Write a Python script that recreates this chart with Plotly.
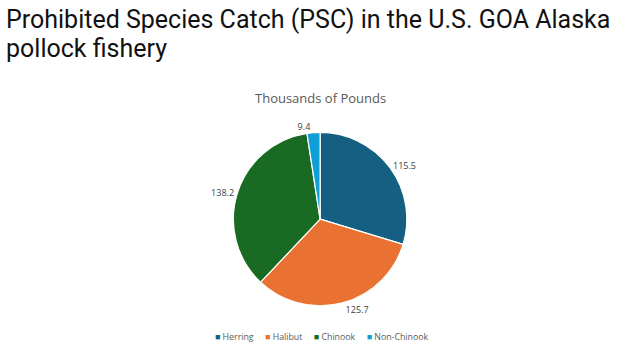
import plotly.graph_objects as go

categories = ["Herring", "Halibut", "Chinook", "Non-Chinook"]
values = [115.5, 125.7, 138.2, 9.4]
colors = ["#156082", "#E97132", "#196B24", "#0F9ED5"]
title_lines = ["Prohibited Species Catch (PSC) in the U.S. GOA Alaska", "pollock fishery"]

fig = go.Figure()
fig.add_trace(go.Pie(
    labels=categories,
    values=values,
    sort=False,
    direction="clockwise",
    rotation=0,
    marker=dict(colors=colors, line=dict(color="white", width=1.2)),
    textinfo="value",
    texttemplate="%{value:.1f}",
    textposition="outside",
    textfont=dict(family="Open Sans", size=9, color="#404040"),
    domain=dict(x=[0.333, 0.693], y=[0.136, 0.626]),
    hoverinfo="label+value",
    showlegend=False,
))

legend_text = "&nbsp;&nbsp;&nbsp;&nbsp;&nbsp;".join(
    f"<span style='color:{c}'>■</span> {n}" for n, c in zip(categories, colors)
)

annotations = []
for i, line in enumerate(title_lines):
    annotations.append(dict(
        text=line, x=0.006, xanchor="left", y=1 - (19.5 + 29 * i) / 354, yanchor="middle",
        align="left", xref="paper", yref="paper", showarrow=False,
        font=dict(family="Roboto", size=25, color="#111111"),
    ))
annotations += [
    dict(
        text="Thousands of Pounds", x=0.513, y=1 - 98 / 354, xref="paper", yref="paper",
        yanchor="middle", showarrow=False,
        font=dict(family="Open Sans", size=13, color="#595959"),
    ),
    dict(
        text=legend_text, x=0.516, y=1 - 337 / 354, xref="paper", yref="paper",
        yanchor="middle", showarrow=False,
        font=dict(family="Open Sans", size=8.8, color="#595959"),
    ),
]

fig.update_layout(
    width=624, height=354,
    margin=dict(l=0, r=0, t=0, b=0),
    paper_bgcolor="white",
    plot_bgcolor="white",
    font=dict(family="Open Sans", color="#595959"),
    annotations=annotations,
)

fig.write_html("out.html")
